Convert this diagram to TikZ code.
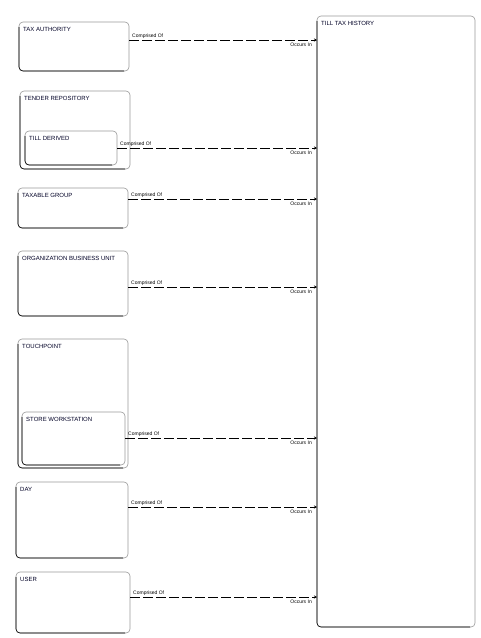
\documentclass[tikz,border=0pt]{standalone}
\usepackage{fontspec}
\setmainfont{Liberation Sans}
\usetikzlibrary{arrows.meta,calc}
\tikzset{
  ent/.style={draw=black!40, line width=0.6pt, rounded corners=4pt, fill=white, anchor=north west, inner sep=0pt, outer sep=0pt},
  entedge/.style={black, line width=0.6pt, rounded corners=4pt},
  ttl/.style={anchor=north west, inner sep=0pt, font=\fontsize{6}{7}\selectfont, text=black!85!blue},
  rel/.style={line width=0.9pt, dash pattern=on 10pt off 3pt, -{Stealth[length=3pt,width=3pt]}},
  lab/.style={inner sep=0pt, font=\fontsize{5}{6}\selectfont},
}
\newcommand\entity[6]{%
  \node[ent, minimum width={#4-#2}, minimum height={#5-#3}] (#1) at (#2,#3) {};
  \draw[entedge] ($(#1.north west)+(0,5)$) -- (#1.south west) -- ($(#1.south east)+(-5,0)$);
  \node[ttl] (#1-t) at ($(#1.north west)+(4,5.5)$) {#6};
}
\newcommand\relation[3]{%
  \coordinate (#1-y) at (0,#3);
  \draw[rel] (#1.east |- #1-y) -- (#2.west |- #1-y);
  \node[lab, anchor=south west] (#1-c) at ($(#1.east |- #1-y)+(3,-1.5)$) {Comprised Of};
  \node[lab, anchor=north east] (#1-o) at ($(#2.west |- #1-y)+(-5,2.5)$) {Occurs In};
}
\begin{document}
\begin{tikzpicture}[x=1pt,y=-1pt]
\useasboundingbox[fill=white] (0,0) rectangle (480,638);
\entity{tth}{317}{16}{475}{627}{TILL TAX HISTORY}
\entity{ta}{19}{22}{129}{71}{TAX AUTHORITY}
\entity{tr}{20}{91}{130}{169}{TENDER REPOSITORY}
\entity{td}{25}{131}{117}{165}{TILL DERIVED}
\entity{tg}{18}{188}{128}{228}{TAXABLE GROUP}
\entity{obu}{18}{251}{128}{316}{ORGANIZATION BUSINESS UNIT}
\entity{tp}{18}{339}{128}{468}{TOUCHPOINT}
\entity{sw}{22}{412}{125}{465}{STORE WORKSTATION}
\entity{day}{16}{482}{128}{558}{DAY}
\entity{usr}{16}{572}{130}{633}{USER}
\relation{ta}{tth}{40}
\relation{td}{tth}{148}
\relation{tg}{tth}{199}
\relation{obu}{tth}{287}
\relation{sw}{tth}{438}
\relation{day}{tth}{507}
\relation{usr}{tth}{597}
\end{tikzpicture}
\end{document}
